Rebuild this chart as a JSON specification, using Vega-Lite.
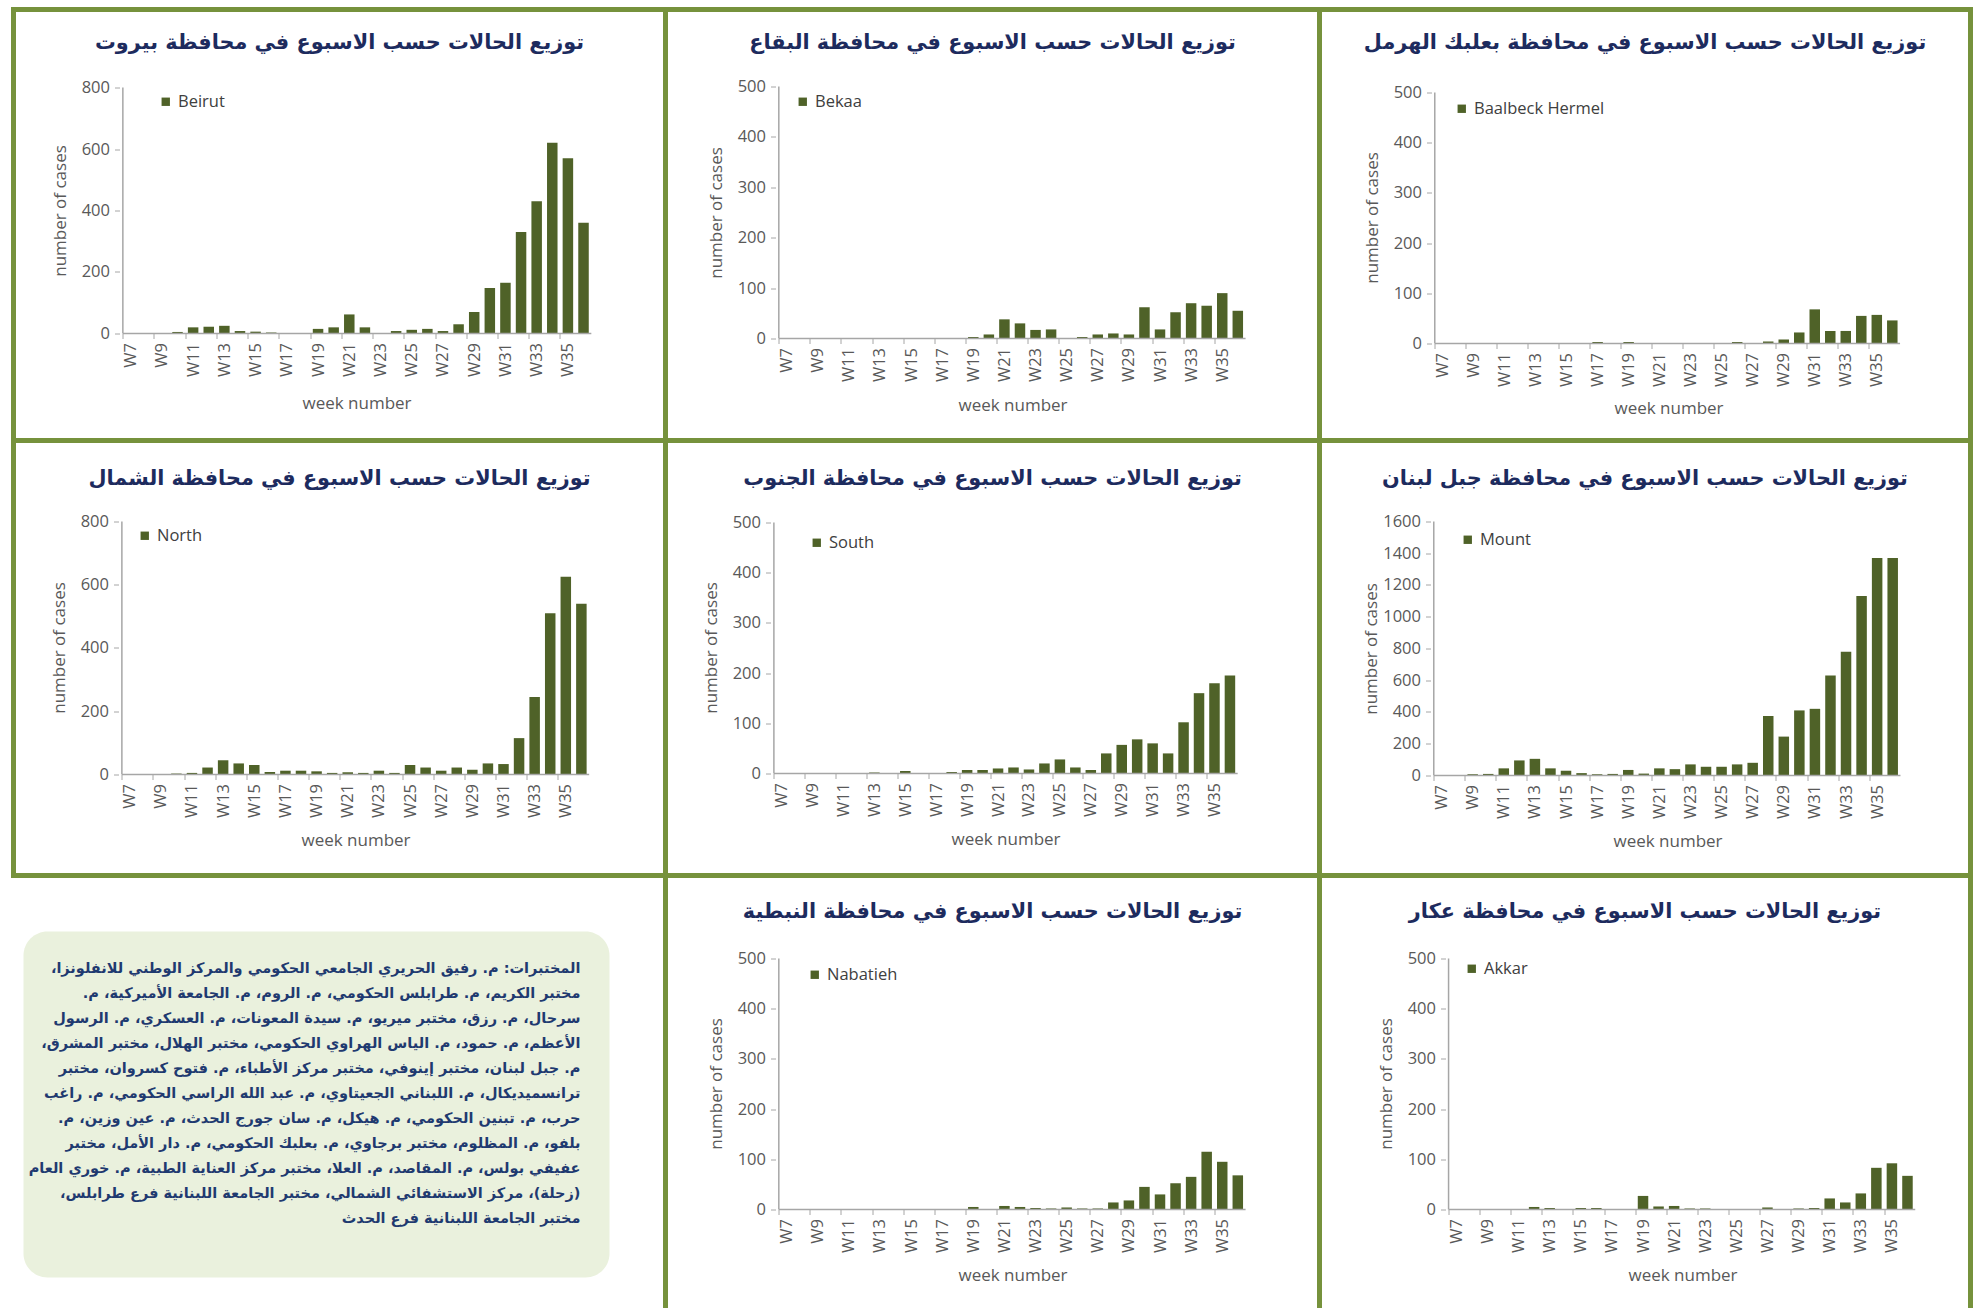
{
  "$schema": "https://vega.github.io/schema/vega-lite/v6.json",
  "background": "white",
  "padding": {"left": 10.5, "top": 6.5, "right": 0, "bottom": -10},
  "config": {
    "view": {"stroke": "#76923c", "strokeWidth": 5},
    "axis": {"labelFont": "Open Sans", "labelFontSize": 16.5, "labelColor": "#595959", "titleFont": "Open Sans", "titleFontSize": 17, "titleFontWeight": "normal", "titleColor": "#595959", "labelFlush": false, "labelOverlap": false, "grid": false, "domain": false, "tickColor": "#a6a6a6", "tickSize": 5},
    "title": {"font": "DejaVu Sans", "fontSize": 20.8, "fontWeight": "bold", "color": "#1d2b5e", "frame": "group", "anchor": "middle", "offset": -44},
    "legend": {"symbolType": "square", "symbolSize": 70, "labelFont": "Open Sans", "labelFontSize": 16.5, "labelColor": "#404040", "padding": 0, "labelOffset": 4, "symbolStrokeWidth": 0, "orient": "none"}
  },
  "datasets": {
    "cases": [
      {"region":"Beirut","week":7,"cases":0},{"region":"Beirut","week":8,"cases":0},{"region":"Beirut","week":9,"cases":0},{"region":"Beirut","week":10,"cases":5},{"region":"Beirut","week":11,"cases":20},{"region":"Beirut","week":12,"cases":22},{"region":"Beirut","week":13,"cases":25},{"region":"Beirut","week":14,"cases":8},{"region":"Beirut","week":15,"cases":6},{"region":"Beirut","week":16,"cases":3},{"region":"Beirut","week":17,"cases":0},{"region":"Beirut","week":18,"cases":0},{"region":"Beirut","week":19,"cases":15},{"region":"Beirut","week":20,"cases":20},{"region":"Beirut","week":21,"cases":62},{"region":"Beirut","week":22,"cases":20},{"region":"Beirut","week":23,"cases":0},{"region":"Beirut","week":24,"cases":8},{"region":"Beirut","week":25,"cases":12},{"region":"Beirut","week":26,"cases":15},{"region":"Beirut","week":27,"cases":8},{"region":"Beirut","week":28,"cases":30},{"region":"Beirut","week":29,"cases":70},{"region":"Beirut","week":30,"cases":148},{"region":"Beirut","week":31,"cases":165},{"region":"Beirut","week":32,"cases":330},{"region":"Beirut","week":33,"cases":430},{"region":"Beirut","week":34,"cases":620},{"region":"Beirut","week":35,"cases":570},{"region":"Beirut","week":36,"cases":360},
      {"region":"Bekaa","week":7,"cases":0},{"region":"Bekaa","week":8,"cases":0},{"region":"Bekaa","week":9,"cases":0},{"region":"Bekaa","week":10,"cases":0},{"region":"Bekaa","week":11,"cases":0},{"region":"Bekaa","week":12,"cases":0},{"region":"Bekaa","week":13,"cases":0},{"region":"Bekaa","week":14,"cases":0},{"region":"Bekaa","week":15,"cases":0},{"region":"Bekaa","week":16,"cases":0},{"region":"Bekaa","week":17,"cases":0},{"region":"Bekaa","week":18,"cases":0},{"region":"Bekaa","week":19,"cases":3},{"region":"Bekaa","week":20,"cases":8},{"region":"Bekaa","week":21,"cases":38},{"region":"Bekaa","week":22,"cases":30},{"region":"Bekaa","week":23,"cases":17},{"region":"Bekaa","week":24,"cases":18},{"region":"Bekaa","week":25,"cases":0},{"region":"Bekaa","week":26,"cases":3},{"region":"Bekaa","week":27,"cases":8},{"region":"Bekaa","week":28,"cases":10},{"region":"Bekaa","week":29,"cases":8},{"region":"Bekaa","week":30,"cases":62},{"region":"Bekaa","week":31,"cases":18},{"region":"Bekaa","week":32,"cases":52},{"region":"Bekaa","week":33,"cases":70},{"region":"Bekaa","week":34,"cases":65},{"region":"Bekaa","week":35,"cases":90},{"region":"Bekaa","week":36,"cases":55},
      {"region":"Baalbeck Hermel","week":7,"cases":0},{"region":"Baalbeck Hermel","week":8,"cases":0},{"region":"Baalbeck Hermel","week":9,"cases":0},{"region":"Baalbeck Hermel","week":10,"cases":0},{"region":"Baalbeck Hermel","week":11,"cases":0},{"region":"Baalbeck Hermel","week":12,"cases":0},{"region":"Baalbeck Hermel","week":13,"cases":0},{"region":"Baalbeck Hermel","week":14,"cases":0},{"region":"Baalbeck Hermel","week":15,"cases":0},{"region":"Baalbeck Hermel","week":16,"cases":0},{"region":"Baalbeck Hermel","week":17,"cases":3},{"region":"Baalbeck Hermel","week":18,"cases":0},{"region":"Baalbeck Hermel","week":19,"cases":3},{"region":"Baalbeck Hermel","week":20,"cases":0},{"region":"Baalbeck Hermel","week":21,"cases":0},{"region":"Baalbeck Hermel","week":22,"cases":0},{"region":"Baalbeck Hermel","week":23,"cases":0},{"region":"Baalbeck Hermel","week":24,"cases":0},{"region":"Baalbeck Hermel","week":25,"cases":0},{"region":"Baalbeck Hermel","week":26,"cases":3},{"region":"Baalbeck Hermel","week":27,"cases":0},{"region":"Baalbeck Hermel","week":28,"cases":4},{"region":"Baalbeck Hermel","week":29,"cases":8},{"region":"Baalbeck Hermel","week":30,"cases":22},{"region":"Baalbeck Hermel","week":31,"cases":68},{"region":"Baalbeck Hermel","week":32,"cases":25},{"region":"Baalbeck Hermel","week":33,"cases":25},{"region":"Baalbeck Hermel","week":34,"cases":55},{"region":"Baalbeck Hermel","week":35,"cases":57},{"region":"Baalbeck Hermel","week":36,"cases":46},
      {"region":"North","week":7,"cases":0},{"region":"North","week":8,"cases":0},{"region":"North","week":9,"cases":0},{"region":"North","week":10,"cases":3},{"region":"North","week":11,"cases":5},{"region":"North","week":12,"cases":22},{"region":"North","week":13,"cases":45},{"region":"North","week":14,"cases":35},{"region":"North","week":15,"cases":30},{"region":"North","week":16,"cases":8},{"region":"North","week":17,"cases":12},{"region":"North","week":18,"cases":12},{"region":"North","week":19,"cases":10},{"region":"North","week":20,"cases":5},{"region":"North","week":21,"cases":7},{"region":"North","week":22,"cases":5},{"region":"North","week":23,"cases":12},{"region":"North","week":24,"cases":5},{"region":"North","week":25,"cases":30},{"region":"North","week":26,"cases":22},{"region":"North","week":27,"cases":12},{"region":"North","week":28,"cases":22},{"region":"North","week":29,"cases":15},{"region":"North","week":30,"cases":35},{"region":"North","week":31,"cases":33},{"region":"North","week":32,"cases":115},{"region":"North","week":33,"cases":245},{"region":"North","week":34,"cases":510},{"region":"North","week":35,"cases":625},{"region":"North","week":36,"cases":540},
      {"region":"South","week":7,"cases":0},{"region":"South","week":8,"cases":0},{"region":"South","week":9,"cases":0},{"region":"South","week":10,"cases":0},{"region":"South","week":11,"cases":0},{"region":"South","week":12,"cases":0},{"region":"South","week":13,"cases":2},{"region":"South","week":14,"cases":0},{"region":"South","week":15,"cases":5},{"region":"South","week":16,"cases":0},{"region":"South","week":17,"cases":0},{"region":"South","week":18,"cases":3},{"region":"South","week":19,"cases":7},{"region":"South","week":20,"cases":7},{"region":"South","week":21,"cases":10},{"region":"South","week":22,"cases":12},{"region":"South","week":23,"cases":8},{"region":"South","week":24,"cases":20},{"region":"South","week":25,"cases":28},{"region":"South","week":26,"cases":12},{"region":"South","week":27,"cases":7},{"region":"South","week":28,"cases":40},{"region":"South","week":29,"cases":57},{"region":"South","week":30,"cases":68},{"region":"South","week":31,"cases":60},{"region":"South","week":32,"cases":40},{"region":"South","week":33,"cases":102},{"region":"South","week":34,"cases":160},{"region":"South","week":35,"cases":180},{"region":"South","week":36,"cases":195},
      {"region":"Mount","week":7,"cases":0},{"region":"Mount","week":8,"cases":0},{"region":"Mount","week":9,"cases":8},{"region":"Mount","week":10,"cases":10},{"region":"Mount","week":11,"cases":45},{"region":"Mount","week":12,"cases":95},{"region":"Mount","week":13,"cases":105},{"region":"Mount","week":14,"cases":45},{"region":"Mount","week":15,"cases":30},{"region":"Mount","week":16,"cases":15},{"region":"Mount","week":17,"cases":8},{"region":"Mount","week":18,"cases":10},{"region":"Mount","week":19,"cases":35},{"region":"Mount","week":20,"cases":12},{"region":"Mount","week":21,"cases":45},{"region":"Mount","week":22,"cases":40},{"region":"Mount","week":23,"cases":70},{"region":"Mount","week":24,"cases":55},{"region":"Mount","week":25,"cases":55},{"region":"Mount","week":26,"cases":70},{"region":"Mount","week":27,"cases":80},{"region":"Mount","week":28,"cases":375},{"region":"Mount","week":29,"cases":245},{"region":"Mount","week":30,"cases":410},{"region":"Mount","week":31,"cases":420},{"region":"Mount","week":32,"cases":630},{"region":"Mount","week":33,"cases":780},{"region":"Mount","week":34,"cases":1130},{"region":"Mount","week":35,"cases":1370},{"region":"Mount","week":36,"cases":1370},
      {"region":"Nabatieh","week":7,"cases":0},{"region":"Nabatieh","week":8,"cases":0},{"region":"Nabatieh","week":9,"cases":0},{"region":"Nabatieh","week":10,"cases":0},{"region":"Nabatieh","week":11,"cases":0},{"region":"Nabatieh","week":12,"cases":0},{"region":"Nabatieh","week":13,"cases":0},{"region":"Nabatieh","week":14,"cases":0},{"region":"Nabatieh","week":15,"cases":0},{"region":"Nabatieh","week":16,"cases":0},{"region":"Nabatieh","week":17,"cases":0},{"region":"Nabatieh","week":18,"cases":0},{"region":"Nabatieh","week":19,"cases":5},{"region":"Nabatieh","week":20,"cases":0},{"region":"Nabatieh","week":21,"cases":7},{"region":"Nabatieh","week":22,"cases":5},{"region":"Nabatieh","week":23,"cases":3},{"region":"Nabatieh","week":24,"cases":2},{"region":"Nabatieh","week":25,"cases":4},{"region":"Nabatieh","week":26,"cases":2},{"region":"Nabatieh","week":27,"cases":2},{"region":"Nabatieh","week":28,"cases":14},{"region":"Nabatieh","week":29,"cases":18},{"region":"Nabatieh","week":30,"cases":45},{"region":"Nabatieh","week":31,"cases":30},{"region":"Nabatieh","week":32,"cases":52},{"region":"Nabatieh","week":33,"cases":65},{"region":"Nabatieh","week":34,"cases":115},{"region":"Nabatieh","week":35,"cases":95},{"region":"Nabatieh","week":36,"cases":68},
      {"region":"Akkar","week":7,"cases":0},{"region":"Akkar","week":8,"cases":0},{"region":"Akkar","week":9,"cases":0},{"region":"Akkar","week":10,"cases":0},{"region":"Akkar","week":11,"cases":0},{"region":"Akkar","week":12,"cases":5},{"region":"Akkar","week":13,"cases":3},{"region":"Akkar","week":14,"cases":0},{"region":"Akkar","week":15,"cases":3},{"region":"Akkar","week":16,"cases":3},{"region":"Akkar","week":17,"cases":0},{"region":"Akkar","week":18,"cases":0},{"region":"Akkar","week":19,"cases":27},{"region":"Akkar","week":20,"cases":6},{"region":"Akkar","week":21,"cases":7},{"region":"Akkar","week":22,"cases":2},{"region":"Akkar","week":23,"cases":2},{"region":"Akkar","week":24,"cases":0},{"region":"Akkar","week":25,"cases":0},{"region":"Akkar","week":26,"cases":0},{"region":"Akkar","week":27,"cases":4},{"region":"Akkar","week":28,"cases":0},{"region":"Akkar","week":29,"cases":2},{"region":"Akkar","week":30,"cases":3},{"region":"Akkar","week":31,"cases":22},{"region":"Akkar","week":32,"cases":14},{"region":"Akkar","week":33,"cases":32},{"region":"Akkar","week":34,"cases":83},{"region":"Akkar","week":35,"cases":92},{"region":"Akkar","week":36,"cases":67}
    ]
  },
  "columns": 3,
  "spacing": 0,
  "bounds": "flush",
  "resolve": {"scale": {"color": "independent"}, "legend": {"color": "independent"}},
  "concat": [
    {
      "width": 652, "height": 431,
      "title": {"text": "توزيع الحالات حسب الاسبوع في محافظة بيروت"},
      "layer": [
        {"data": {"name": "cases"}, "transform": [{"filter": "datum.region === 'Beirut'"}],
         "mark": {"type": "bar", "size": 10.5},
         "encoding": {
           "x": {"field": "week", "type": "quantitative", "scale": {"domain": [-0.183, 40.93], "nice": false, "zero": false},
                 "axis": {"orient": "bottom", "offset": -107, "values": [7,8,9,10,11,12,13,14,15,16,17,18,19,20,21,22,23,24,25,26,27,28,29,30,31,32,33,34,35,36], "labelExpr": "datum.value % 2 === 1 ? 'W' + datum.value : ''", "labelAngle": -90, "ticks": true, "tickOffset": -7.93, "labelOffset": 7.93, "labelPadding": 4, "title": "week number", "titleX": 343, "titleY": 70, "titleBaseline": "middle"}},
           "y": {"field": "cases", "type": "quantitative", "scale": {"domain": [-348, 1053.7], "nice": false},
                 "axis": {"orient": "left", "offset": -106, "values": [0,200,400,600,800], "format": "d", "labelPadding": 5, "title": "number of cases", "titleX": -59, "titleY": 201, "titleBaseline": "middle"}},
           "color": {"field": "region", "type": "nominal", "scale": {"range": ["#4f6228"]}, "legend": {"title": null, "orient": "none", "legendX": 144, "legendY": 84}}
         }},
        {"data": {"values": [{}]}, "mark": {"type": "rule", "color": "#a6a6a6", "strokeWidth": 1.5},
         "encoding": {"x": {"datum": 6.5, "type": "quantitative"}, "y": {"datum": 0, "type": "quantitative"}, "y2": {"datum": 800}}},
        {"data": {"values": [{}]}, "mark": {"type": "rule", "color": "#a6a6a6", "strokeWidth": 1.5},
         "encoding": {"x": {"datum": 6.5, "type": "quantitative"}, "x2": {"datum": 36.5}, "y": {"datum": 0, "type": "quantitative"}}}
      ]
    },
    {
      "width": 654, "height": 431,
      "title": {"text": "توزيع الحالات حسب الاسبوع في محافظة البقاع"},
      "layer": [
        {"data": {"name": "cases"}, "transform": [{"filter": "datum.region === 'Bekaa'"}],
         "mark": {"type": "bar", "size": 10.5},
         "encoding": {
           "x": {"field": "week", "type": "quantitative", "scale": {"domain": [-0.462, 40.93], "nice": false, "zero": false},
                 "axis": {"orient": "bottom", "offset": -102, "values": [7,8,9,10,11,12,13,14,15,16,17,18,19,20,21,22,23,24,25,26,27,28,29,30,31,32,33,34,35,36], "labelExpr": "datum.value % 2 === 1 ? 'W' + datum.value : ''", "labelAngle": -90, "ticks": true, "tickOffset": -7.9, "labelOffset": 7.9, "labelPadding": 4, "title": "week number", "titleX": 347, "titleY": 67, "titleBaseline": "middle"}},
           "y": {"field": "cases", "type": "quantitative", "scale": {"domain": [-202.4, 652.8], "nice": false},
                 "axis": {"orient": "left", "offset": -110, "values": [0,100,200,300,400,500], "format": "d", "labelPadding": 5, "title": "number of cases", "titleX": -59, "titleY": 203, "titleBaseline": "middle"}},
           "color": {"field": "region", "type": "nominal", "scale": {"range": ["#4f6228"]}, "legend": {"title": null, "orient": "none", "legendX": 129, "legendY": 84}}
         }},
        {"data": {"values": [{}]}, "mark": {"type": "rule", "color": "#a6a6a6", "strokeWidth": 1.5},
         "encoding": {"x": {"datum": 6.5, "type": "quantitative"}, "y": {"datum": 0, "type": "quantitative"}, "y2": {"datum": 500}}},
        {"data": {"values": [{}]}, "mark": {"type": "rule", "color": "#a6a6a6", "strokeWidth": 1.5},
         "encoding": {"x": {"datum": 6.5, "type": "quantitative"}, "x2": {"datum": 36.5}, "y": {"datum": 0, "type": "quantitative"}}}
      ]
    },
    {
      "width": 651, "height": 431,
      "title": {"text": "توزيع الحالات حسب الاسبوع في محافظة بعلبك الهرمل"},
      "layer": [
        {"data": {"name": "cases"}, "transform": [{"filter": "datum.region === 'Baalbeck Hermel'"}],
         "mark": {"type": "bar", "size": 10.5},
         "encoding": {
           "x": {"field": "week", "type": "quantitative", "scale": {"domain": [-0.611, 40.72], "nice": false, "zero": false},
                 "axis": {"orient": "bottom", "offset": -97, "values": [7,8,9,10,11,12,13,14,15,16,17,18,19,20,21,22,23,24,25,26,27,28,29,30,31,32,33,34,35,36], "labelExpr": "datum.value % 2 === 1 ? 'W' + datum.value : ''", "labelAngle": -90, "ticks": true, "tickOffset": -7.875, "labelOffset": 7.875, "labelPadding": 4, "title": "week number", "titleX": 349, "titleY": 65, "titleBaseline": "middle"}},
           "y": {"field": "cases", "type": "quantitative", "scale": {"domain": [-193.2, 665.3], "nice": false},
                 "axis": {"orient": "left", "offset": -112, "values": [0,100,200,300,400,500], "format": "d", "labelPadding": 5, "title": "number of cases", "titleX": -59, "titleY": 208, "titleBaseline": "middle"}},
           "color": {"field": "region", "type": "nominal", "scale": {"range": ["#4f6228"]}, "legend": {"title": null, "orient": "none", "legendX": 134, "legendY": 91}}
         }},
        {"data": {"values": [{}]}, "mark": {"type": "rule", "color": "#a6a6a6", "strokeWidth": 1.5},
         "encoding": {"x": {"datum": 6.5, "type": "quantitative"}, "y": {"datum": 0, "type": "quantitative"}, "y2": {"datum": 500}}},
        {"data": {"values": [{}]}, "mark": {"type": "rule", "color": "#a6a6a6", "strokeWidth": 1.5},
         "encoding": {"x": {"datum": 6.5, "type": "quantitative"}, "x2": {"datum": 36.5}, "y": {"datum": 0, "type": "quantitative"}}}
      ]
    },
    {
      "width": 652, "height": 435,
      "title": {"text": "توزيع الحالات حسب الاسبوع في محافظة الشمال", "offset": -49},
      "layer": [
        {"data": {"name": "cases"}, "transform": [{"filter": "datum.region === 'North'"}],
         "mark": {"type": "bar", "size": 10.5},
         "encoding": {
           "x": {"field": "week", "type": "quantitative", "scale": {"domain": [-0.137, 41.08], "nice": false, "zero": false},
                 "axis": {"orient": "bottom", "offset": -101, "values": [7,8,9,10,11,12,13,14,15,16,17,18,19,20,21,22,23,24,25,26,27,28,29,30,31,32,33,34,35,36], "labelExpr": "datum.value % 2 === 1 ? 'W' + datum.value : ''", "labelAngle": -90, "ticks": true, "tickOffset": -7.91, "labelOffset": 7.91, "labelPadding": 4, "title": "week number", "titleX": 342, "titleY": 66, "titleBaseline": "middle"}},
           "y": {"field": "cases", "type": "quantitative", "scale": {"domain": [-319.4, 1056.1], "nice": false},
                 "axis": {"orient": "left", "offset": -105, "values": [0,200,400,600,800], "format": "d", "labelPadding": 5, "title": "number of cases", "titleX": -59, "titleY": 207, "titleBaseline": "middle"}},
           "color": {"field": "region", "type": "nominal", "scale": {"range": ["#4f6228"]}, "legend": {"title": null, "orient": "none", "legendX": 123, "legendY": 87}}
         }},
        {"data": {"values": [{}]}, "mark": {"type": "rule", "color": "#a6a6a6", "strokeWidth": 1.5},
         "encoding": {"x": {"datum": 6.5, "type": "quantitative"}, "y": {"datum": 0, "type": "quantitative"}, "y2": {"datum": 800}}},
        {"data": {"values": [{}]}, "mark": {"type": "rule", "color": "#a6a6a6", "strokeWidth": 1.5},
         "encoding": {"x": {"datum": 6.5, "type": "quantitative"}, "x2": {"datum": 36.5}, "y": {"datum": 0, "type": "quantitative"}}}
      ]
    },
    {
      "width": 654, "height": 435,
      "title": {"text": "توزيع الحالات حسب الاسبوع في محافظة الجنوب", "offset": -49},
      "layer": [
        {"data": {"name": "cases"}, "transform": [{"filter": "datum.region === 'South'"}],
         "mark": {"type": "bar", "size": 10.5},
         "encoding": {
           "x": {"field": "week", "type": "quantitative", "scale": {"domain": [-0.188, 41.47], "nice": false, "zero": false},
                 "axis": {"orient": "bottom", "offset": -102, "values": [7,8,9,10,11,12,13,14,15,16,17,18,19,20,21,22,23,24,25,26,27,28,29,30,31,32,33,34,35,36], "labelExpr": "datum.value % 2 === 1 ? 'W' + datum.value : ''", "labelAngle": -90, "ticks": true, "tickOffset": -7.85, "labelOffset": 7.85, "labelPadding": 4, "title": "week number", "titleX": 340, "titleY": 66, "titleBaseline": "middle"}},
           "y": {"field": "cases", "type": "quantitative", "scale": {"domain": [-203.2, 663.3], "nice": false},
                 "axis": {"orient": "left", "offset": -105, "values": [0,100,200,300,400,500], "format": "d", "labelPadding": 5, "title": "number of cases", "titleX": -59, "titleY": 207, "titleBaseline": "middle"}},
           "color": {"field": "region", "type": "nominal", "scale": {"range": ["#4f6228"]}, "legend": {"title": null, "orient": "none", "legendX": 143, "legendY": 94}}
         }},
        {"data": {"values": [{}]}, "mark": {"type": "rule", "color": "#a6a6a6", "strokeWidth": 1.5},
         "encoding": {"x": {"datum": 6.5, "type": "quantitative"}, "y": {"datum": 0, "type": "quantitative"}, "y2": {"datum": 500}}},
        {"data": {"values": [{}]}, "mark": {"type": "rule", "color": "#a6a6a6", "strokeWidth": 1.5},
         "encoding": {"x": {"datum": 6.5, "type": "quantitative"}, "x2": {"datum": 36.5}, "y": {"datum": 0, "type": "quantitative"}}}
      ]
    },
    {
      "width": 651, "height": 435,
      "title": {"text": "توزيع الحالات حسب الاسبوع في محافظة جبل لبنان", "offset": -49},
      "layer": [
        {"data": {"name": "cases"}, "transform": [{"filter": "datum.region === 'Mount'"}],
         "mark": {"type": "bar", "size": 10.5},
         "encoding": {
           "x": {"field": "week", "type": "quantitative", "scale": {"domain": [-0.525, 40.68], "nice": false, "zero": false},
                 "axis": {"orient": "bottom", "offset": -100, "values": [7,8,9,10,11,12,13,14,15,16,17,18,19,20,21,22,23,24,25,26,27,28,29,30,31,32,33,34,35,36], "labelExpr": "datum.value % 2 === 1 ? 'W' + datum.value : ''", "labelAngle": -90, "ticks": true, "tickOffset": -7.9, "labelOffset": 7.9, "labelPadding": 4, "title": "week number", "titleX": 348, "titleY": 66, "titleBaseline": "middle"}},
           "y": {"field": "cases", "type": "quantitative", "scale": {"domain": [-629.9, 2110.2], "nice": false},
                 "axis": {"orient": "left", "offset": -111, "values": [0,200,400,600,800,1000,1200,1400,1600], "format": "d", "labelPadding": 5, "title": "number of cases", "titleX": -59, "titleY": 208, "titleBaseline": "middle"}},
           "color": {"field": "region", "type": "nominal", "scale": {"range": ["#4f6228"]}, "legend": {"title": null, "orient": "none", "legendX": 140, "legendY": 91}}
         }},
        {"data": {"values": [{}]}, "mark": {"type": "rule", "color": "#a6a6a6", "strokeWidth": 1.5},
         "encoding": {"x": {"datum": 6.5, "type": "quantitative"}, "y": {"datum": 0, "type": "quantitative"}, "y2": {"datum": 1600}}},
        {"data": {"values": [{}]}, "mark": {"type": "rule", "color": "#a6a6a6", "strokeWidth": 1.5},
         "encoding": {"x": {"datum": 6.5, "type": "quantitative"}, "x2": {"datum": 36.5}, "y": {"datum": 0, "type": "quantitative"}}}
      ]
    },
    {
      "spacing": 0, "bounds": "flush",
      "vconcat": [
        {"width": 652, "height": 56, "view": {"stroke": null}, "data": {"values": [{}]}, "mark": {"type": "text", "text": ""}, "encoding": {}},
        {
          "spacing": 0, "bounds": "flush",
          "hconcat": [
            {"width": 10, "height": 346, "view": {"stroke": null}, "data": {"values": [{}]}, "mark": {"type": "text", "text": ""}, "encoding": {}},
            {
              "width": 586, "height": 346,
              "view": {"stroke": null, "fill": "#eaf1dd", "cornerRadius": 24},
              "data": {"values": [{"t": "\u200fالمختبرات: م. رفيق الحريري الجامعي الحكومي والمركز الوطني للانفلونزا،\u200f\n\u200fمختبر الكريم، م. طرابلس الحكومي، م. الروم، م. الجامعة الأميركية، م.\u200f\n\u200fسرحال، م. رزق، مختبر ميريو، م. سيدة المعونات، م. العسكري، م. الرسول\u200f\n\u200fالأعظم، م. حمود، م. الياس الهراوي الحكومي، مختبر الهلال، مختبر المشرق،\u200f\n\u200fم. جبل لبنان، مختبر إينوفي، مختبر مركز الأطباء، م. فتوح كسروان، مختبر\u200f\n\u200fترانسميديكال، م. اللبناني الجعيتاوي، م. عبد الله الراسي الحكومي، م. راغب\u200f\n\u200fحرب، م. تبنين الحكومي، م. هيكل، م. سان جورج الحدث، م. عين وزين، م.\u200f\n\u200fبلفو، م. المظلوم، مختبر برجاوي، م. بعلبك الحكومي، م. دار الأمل، مختبر\u200f\n\u200fعفيفي بولس، م. المقاصد، م. العلا، مختبر مركز العناية الطبية، م. خوري العام\u200f\n\u200f(زحلة)، مركز الاستشفائي الشمالي، مختبر الجامعة اللبنانية فرع طرابلس،\u200f\n\u200fمختبر الجامعة اللبنانية فرع الحدث\u200f"}]},
              "mark": {"type": "text", "lineBreak": "\n", "align": "right", "baseline": "middle", "dx": 264, "dy": -136, "font": "DejaVu Sans", "fontWeight": "bold", "fontSize": 14.5, "lineHeight": 25, "color": "#1f3a70"},
              "encoding": {"text": {"field": "t"}}
            }
          ]
        }
      ]
    },
    {
      "width": 654, "height": 440,
      "title": {"text": "توزيع الحالات حسب الاسبوع في محافظة النبطية", "offset": -47.5},
      "layer": [
        {"data": {"name": "cases"}, "transform": [{"filter": "datum.region === 'Nabatieh'"}],
         "mark": {"type": "bar", "size": 10.5},
         "encoding": {
           "x": {"field": "week", "type": "quantitative", "scale": {"domain": [-0.462, 40.93], "nice": false, "zero": false},
                 "axis": {"orient": "bottom", "offset": -106, "values": [7,8,9,10,11,12,13,14,15,16,17,18,19,20,21,22,23,24,25,26,27,28,29,30,31,32,33,34,35,36], "labelExpr": "datum.value % 2 === 1 ? 'W' + datum.value : ''", "labelAngle": -90, "ticks": true, "tickOffset": -7.9, "labelOffset": 7.9, "labelPadding": 4, "title": "week number", "titleX": 347, "titleY": 66, "titleBaseline": "middle"}},
           "y": {"field": "cases", "type": "quantitative", "scale": {"domain": [-211.2, 665.3], "nice": false},
                 "axis": {"orient": "left", "offset": -110, "values": [0,100,200,300,400,500], "format": "d", "labelPadding": 5, "title": "number of cases", "titleX": -59, "titleY": 208, "titleBaseline": "middle"}},
           "color": {"field": "region", "type": "nominal", "scale": {"range": ["#4f6228"]}, "legend": {"title": null, "orient": "none", "legendX": 141, "legendY": 91}}
         }},
        {"data": {"values": [{}]}, "mark": {"type": "rule", "color": "#a6a6a6", "strokeWidth": 1.5},
         "encoding": {"x": {"datum": 6.5, "type": "quantitative"}, "y": {"datum": 0, "type": "quantitative"}, "y2": {"datum": 500}}},
        {"data": {"values": [{}]}, "mark": {"type": "rule", "color": "#a6a6a6", "strokeWidth": 1.5},
         "encoding": {"x": {"datum": 6.5, "type": "quantitative"}, "x2": {"datum": 36.5}, "y": {"datum": 0, "type": "quantitative"}}}
      ]
    },
    {
      "width": 651, "height": 440,
      "title": {"text": "توزيع الحالات حسب الاسبوع في محافظة عكار", "offset": -47.5},
      "layer": [
        {"data": {"name": "cases"}, "transform": [{"filter": "datum.region === 'Akkar'"}],
         "mark": {"type": "bar", "size": 10.5},
         "encoding": {
           "x": {"field": "week", "type": "quantitative", "scale": {"domain": [-1.475, 39.73], "nice": false, "zero": false},
                 "axis": {"orient": "bottom", "offset": -106, "values": [7,8,9,10,11,12,13,14,15,16,17,18,19,20,21,22,23,24,25,26,27,28,29,30,31,32,33,34,35,36], "labelExpr": "datum.value % 2 === 1 ? 'W' + datum.value : ''", "labelAngle": -90, "ticks": true, "tickOffset": -7.9, "labelOffset": 7.9, "labelPadding": 4, "title": "week number", "titleX": 363, "titleY": 66, "titleBaseline": "middle"}},
           "y": {"field": "cases", "type": "quantitative", "scale": {"domain": [-211.2, 665.3], "nice": false},
                 "axis": {"orient": "left", "offset": -126, "values": [0,100,200,300,400,500], "format": "d", "labelPadding": 5, "title": "number of cases", "titleX": -59, "titleY": 208, "titleBaseline": "middle"}},
           "color": {"field": "region", "type": "nominal", "scale": {"range": ["#4f6228"]}, "legend": {"title": null, "orient": "none", "legendX": 144, "legendY": 85}}
         }},
        {"data": {"values": [{}]}, "mark": {"type": "rule", "color": "#a6a6a6", "strokeWidth": 1.5},
         "encoding": {"x": {"datum": 6.5, "type": "quantitative"}, "y": {"datum": 0, "type": "quantitative"}, "y2": {"datum": 500}}},
        {"data": {"values": [{}]}, "mark": {"type": "rule", "color": "#a6a6a6", "strokeWidth": 1.5},
         "encoding": {"x": {"datum": 6.5, "type": "quantitative"}, "x2": {"datum": 36.5}, "y": {"datum": 0, "type": "quantitative"}}}
      ]
    }
  ]
}
